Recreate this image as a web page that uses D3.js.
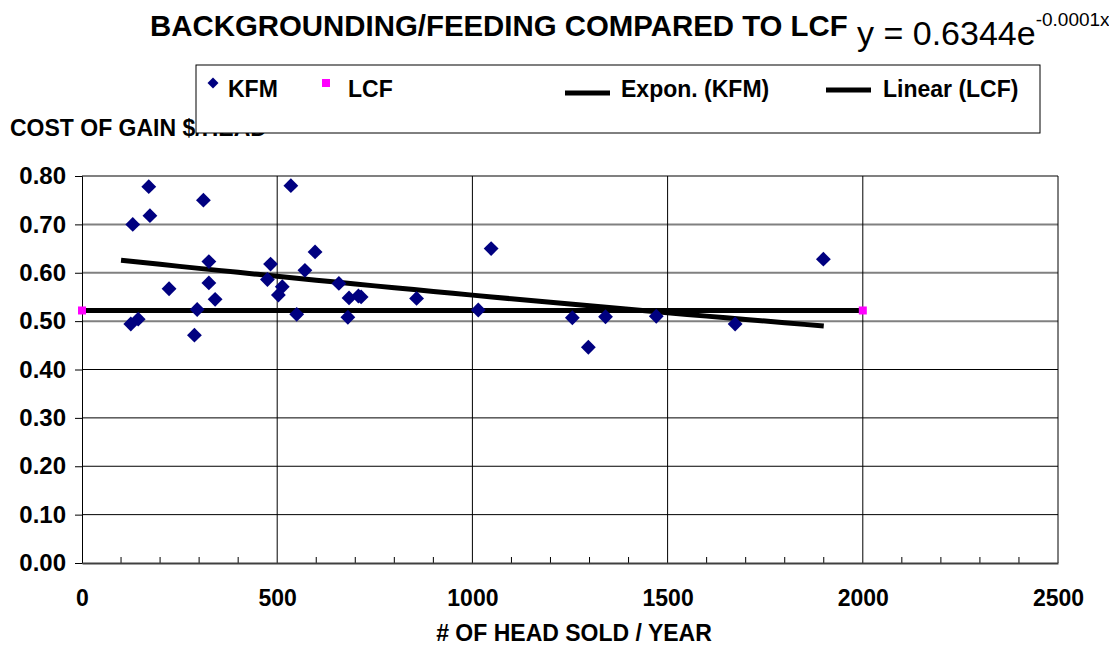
<!DOCTYPE html>
<html>
<head>
<meta charset="utf-8">
<script src="https://cdn.jsdelivr.net/npm/d3@7"></script>
<style>
  body { margin: 0; background: #fff; }
  text { font-family: Arial, "Liberation Sans", sans-serif; }
</style>
</head>
<body>
<div id="chart"></div>
<script>
// KFM points (head sold / year, cost of gain)
const kfmX = [171, 311, 130, 174, 535, 325, 483, 597, 571, 475, 513, 503, 223, 325, 341,
              658, 684, 708, 715, 857, 295, 125, 144, 288, 550, 681, 1015, 1048, 1899,
              1256, 1341, 1297, 1471, 1673];
const kfmY = [0.778, 0.750, 0.700, 0.718, 0.780, 0.623, 0.618, 0.643, 0.605, 0.586, 0.571, 0.554, 0.567, 0.579, 0.545,
              0.578, 0.548, 0.552, 0.550, 0.547, 0.524, 0.494, 0.504, 0.471, 0.514, 0.508, 0.523, 0.650, 0.628,
              0.507, 0.509, 0.446, 0.510, 0.494];
const lcfX = [0, 2000];
const lcfY = [0.522, 0.522];

// trend lines
const expA = 0.6344, expB = -0.000136, expRange = [100, 1900];
const xTicks = [0, 500, 1000, 1500, 2000, 2500];
const yTicks = [0, 0.1, 0.2, 0.3, 0.4, 0.5, 0.6, 0.7, 0.8];

function ScatterChart() {
    let self = this;
    self.init();
}

ScatterChart.prototype.init = function () {
    let self = this;
    self.width = 1109;
    self.height = 647;
    self.plot = {left: 82, right: 1058, top: 176, bottom: 563};

    self.svg = d3.select("#chart").append("svg")
        .attr("width", self.width)
        .attr("height", self.height);

    self.x = d3.scaleLinear().domain([0, 2500]).range([self.plot.left, self.plot.right]);
    self.y = d3.scaleLinear().domain([0, 0.8]).range([self.plot.bottom, self.plot.top]);
};

ScatterChart.prototype.update = function () {
    let self = this;
    const svg = self.svg, x = self.x, y = self.y, p = self.plot;

    // horizontal grid
    svg.append("g").selectAll("line").data(yTicks.filter(d => d > 0)).enter().append("line")
        .attr("x1", p.left).attr("x2", p.right)
        .attr("y1", d => y(d)).attr("y2", d => y(d))
        .attr("stroke", d => d >= 0.45 ? "#808080" : "#000")
        .attr("stroke-width", d => d >= 0.45 ? 2 : 1);

    // vertical grid
    svg.append("g").selectAll("line").data(xTicks.filter(d => d > 0)).enter().append("line")
        .attr("x1", d => x(d)).attr("x2", d => x(d))
        .attr("y1", p.top).attr("y2", p.bottom)
        .attr("stroke", "#000").attr("stroke-width", 1);

    // minor ticks on the x axis
    svg.append("g").selectAll("line").data(d3.range(100, 2500, 100).filter(d => d % 500 !== 0)).enter().append("line")
        .attr("x1", d => x(d)).attr("x2", d => x(d))
        .attr("y1", p.bottom).attr("y2", p.bottom - 6)
        .attr("stroke", "#000").attr("stroke-width", 1);

    // axes
    const yAxis = d3.axisLeft(y).tickValues(yTicks).tickSize(7).tickFormat(d3.format(".2f"));
    const gy = svg.append("g").attr("transform", `translate(${p.left},0)`).call(yAxis);
    gy.select(".domain").attr("stroke", "#000");
    gy.selectAll(".tick line").attr("stroke", "#000");
    gy.selectAll(".tick text")
        .attr("x", -16)
        .attr("font-size", 24).attr("font-weight", "bold")
        .attr("font-family", "Arial, 'Liberation Sans', sans-serif").attr("fill", "#000");

    const xAxis = d3.axisBottom(x).tickValues(xTicks).tickSize(0).tickFormat(d3.format("d"));
    const gx = svg.append("g").attr("transform", `translate(0,${p.bottom})`).call(xAxis);
    gx.select(".domain").attr("stroke", "#404040").attr("stroke-width", 2);
    gx.selectAll(".tick text")
        .attr("y", 27)
        .attr("font-size", 23).attr("font-weight", "bold")
        .attr("font-family", "Arial, 'Liberation Sans', sans-serif").attr("fill", "#000");

    // linear (LCF)
    svg.append("line")
        .attr("x1", x(lcfX[0])).attr("x2", x(lcfX[1]))
        .attr("y1", y(lcfY[0])).attr("y2", y(lcfY[1]))
        .attr("stroke", "#000").attr("stroke-width", 5);

    // exponential trend (KFM)
    const expPts = d3.range(expRange[0], expRange[1] + 1, 50).map(v => [v, expA * Math.exp(expB * v)]);
    svg.append("path")
        .attr("d", d3.line().x(d => x(d[0])).y(d => y(d[1]))(expPts))
        .attr("fill", "none").attr("stroke", "#000").attr("stroke-width", 5);

    // KFM diamonds
    const diamond = d3.symbol().type(d3.symbolSquare).size(110);
    svg.append("g").selectAll("path").data(kfmX).enter().append("path")
        .attr("d", diamond)
        .attr("transform", (d, i) => `translate(${x(d)},${y(kfmY[i])}) rotate(45)`)
        .attr("fill", "#000080");

    // LCF squares
    svg.append("g").selectAll("rect").data(lcfX).enter().append("rect")
        .attr("x", d => x(d) - 4).attr("y", (d, i) => y(lcfY[i]) - 4)
        .attr("width", 8).attr("height", 8)
        .attr("fill", "#ff00ff");

    // titles
    svg.append("text").attr("x", 150).attr("y", 36)
        .attr("font-size", 29.4).attr("font-weight", "bold")
        .text("BACKGROUNDING/FEEDING COMPARED TO LCF");
    const eq = svg.append("text").attr("x", 857).attr("y", 45).attr("font-size", 34);
    eq.append("tspan").text("y = 0.6344e");
    eq.append("tspan").attr("dy", -19).attr("font-size", 19).text("-0.0001x");

    svg.append("text").attr("x", 10).attr("y", 136)
        .attr("font-size", 23).attr("font-weight", "bold")
        .text("COST OF GAIN $/HEAD");

    svg.append("text").attr("x", (p.left + p.right) / 2 + 4).attr("y", 641)
        .attr("text-anchor", "middle")
        .attr("font-size", 23).attr("font-weight", "bold")
        .text("# OF HEAD SOLD / YEAR");

    // legend
    const lg = svg.append("g");
    lg.append("rect").attr("x", 196).attr("y", 65).attr("width", 844).attr("height", 68)
        .attr("fill", "#fff").attr("stroke", "#000").attr("stroke-width", 1);
    lg.append("path").attr("d", d3.symbol().type(d3.symbolSquare).size(60))
        .attr("transform", "translate(213,83) rotate(45)").attr("fill", "#000080");
    lg.append("rect").attr("x", 322).attr("y", 79).attr("width", 8).attr("height", 8).attr("fill", "#ff00ff");
    lg.append("line").attr("x1", 565).attr("x2", 610).attr("y1", 93).attr("y2", 93)
        .attr("stroke", "#000").attr("stroke-width", 5);
    lg.append("line").attr("x1", 826).attr("x2", 871).attr("y1", 90).attr("y2", 90)
        .attr("stroke", "#000").attr("stroke-width", 5);
    const items = [["KFM", 228], ["LCF", 348], ["Expon. (KFM)", 621], ["Linear (LCF)", 883]];
    lg.selectAll("text.leg").data(items).enter().append("text")
        .attr("class", "leg")
        .attr("x", d => d[1]).attr("y", 97)
        .attr("font-size", 23).attr("font-weight", "bold")
        .text(d => d[0]);
};

const chart = new ScatterChart();
chart.update();
</script>
</body>
</html>
